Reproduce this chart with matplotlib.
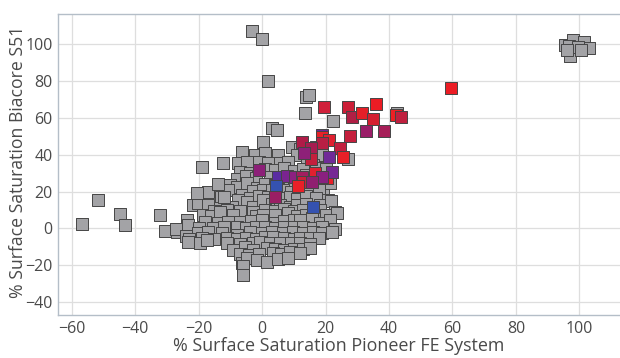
import matplotlib
matplotlib.use("Agg")
import matplotlib.pyplot as plt

plt.rcParams['font.family'] = ['Open Sans', 'DejaVu Sans']

# Gray samples (no category colour)
gray_x = [
    -3.2, 0.0, 2.0, 13.9, 14.9, 13.6, 3.2, 4.7, 0.3, 22.3, 42.5, 27.2,
    -56.6, -51.6, -44.7, -43.1, -32.2, -30.5, -26.8, -18.8, -12.4,
    95.5, 97.1, 98.1, 101.3, 103.0, 96.6, 99.7, 96.0, 100.5,
    -6.4, 9.4, 12.0, 17.0,
    -2.2, 0.9, 10.9, 18.8, 5.0,
    -7.5, -4.8, 5.7, 8.3, 14.1, 16.2, -1.0, 2.0,
    -6.9, -3.8, 1.0, 4.0, 7.0, 10.0, 13.0, 17.0, 20.0,
    -8.0, -5.0, -2.0, 2.5, 14.0, 17.0, 21.0,
    -10.0, -8.0, -4.8, -1.7, 1.0, 4.0, 7.0, 10.0, 13.0, 16.0, 19.3, 21.4,
    -10.6, -6.4, -3.0, 0.4, 3.0, 6.7, 9.0, 12.0, 15.0, 18.0,
    -13.0, -7.5, -3.8, -1.0, 2.0, 5.0, 8.8, 11.0, 14.0, 17.0, 20.9,
    -21.7, -20.1, -16.9, -13.2, -9.5, -4.8, -2.7, 0.4, 3.0, 5.7, 8.8, 10.9, 14.0, 18.3, 21.6,
    -18.5, -15.0, -11.0, -7.0, -3.0, 1.0, 4.0, 7.0, 10.0, 13.0, 16.0, 18.3, 23.0,
    -23.7, -16.0, -13.2, -9.0, -5.8, -2.0, 0.4, 4.0, 8.3, 11.0, 14.0, 17.0, 20.0, 23.5,
    -23.4, -18.0, -14.0, -10.6, -6.9, -3.5, 0.0, 4.1, 7.0, 10.0, 12.0, 15.7, 18.3, 21.4,
    -27.0, -20.0, -15.3, -12.0, -8.0, -5.0, -2.0, 1.0, 4.0, 7.0, 10.0, 13.0, 16.0, 19.0, 23.0,
    -24.0, -20.1, -17.0, -12.7, -8.0, -3.8, -0.1, 3.0, 6.7, 9.9, 13.0, 16.0, 18.8, 22.0,
    -23.0, -19.0, -15.0, -11.0, -8.0, -5.0, -2.0, 1.0, 3.6, 7.0, 10.0, 12.0, 15.1, 18.0,
    -23.2, -19.5, -17.4, -11.1, -7.0, -3.0, -0.6, 2.5, 5.7, 9.0, 12.0, 15.0,
    -9.0, -5.4, -2.7, 1.5, 4.0, 7.0, 10.0, 13.0, 15.1,
    -7.0, -4.0, -1.0, 3.6, 6.0, 8.8, 12.0,
    -6.4, -4.8, -1.7, 1.5, 5.0, 8.3,
    -6.0, -5.9,
    -17.0, -14.0, -12.0, -20.6,
]
gray_y = [
    107.0, 103.0, 80.0, 71.4, 72.3, 62.4, 54.4, 53.3, 47.0, 58.4, 62.4, 37.4,
    2.2, 15.4, 7.6, 1.6, 7.2, -1.5, -1.8, 33.4, 35.3,
    99.5, 93.4, 102.0, 100.9, 97.7, 98.9, 98.5, 97.0, 96.5,
    41.6, 44.3, 43.0, 44.0,
    39.8, 40.7, 39.8, 39.8, 40.0,
    35.3, 36.1, 35.3, 36.1, 35.3, 34.3, 36.0, 35.5,
    30.7, 29.8, 32.0, 31.5, 32.5, 31.0, 32.0, 33.0, 32.0,
    27.0, 28.5, 27.5, 28.0, 29.0, 27.0, 28.0,
    23.5, 22.6, 24.4, 21.7, 24.0, 23.5, 24.0, 24.5, 23.0, 24.0, 21.7, 24.4,
    20.8, 18.1, 20.5, 20.8, 21.0, 20.8, 19.5, 20.5, 20.0, 21.0,
    17.0, 15.4, 16.3, 17.5, 17.0, 16.5, 17.1, 16.0, 17.5, 16.5, 15.4,
    12.6, 13.6, 12.6, 10.9, 11.7, 14.4, 11.7, 15.4, 13.0, 12.6, 11.7, 12.6, 13.0, 12.6, 15.0,
    7.2, 9.5, 10.0, 9.5, 9.0, 10.0, 9.5, 10.5, 9.5, 10.0, 9.0, 9.9, 9.0,
    4.5, 6.5, 9.0, 7.0, 3.6, 6.5, 7.2, 7.0, 8.1, 6.5, 7.0, 6.0, 7.0, 8.1,
    1.8, 3.6, 3.0, 3.6, 3.6, 4.0, 4.5, 2.7, 4.0, 4.5, 4.5, 5.4, 2.7, 4.5,
    -0.5, 0.0, 0.0, 1.0, 0.5, 0.0, 1.0, 0.5, 0.0, 1.0, 0.5, 1.0, 0.0, 0.5, -0.5,
    -4.0, -2.7, -2.0, -2.7, -3.6, -1.8, -2.7, -2.0, -2.7, -1.8, -2.5, -2.0, -2.7, -2.0,
    -5.5, -5.0, -5.5, -5.0, -5.5, -5.0, -5.5, -4.5, -4.6, -5.0, -5.5, -5.0, -5.4, -5.0,
    -7.3, -8.1, -6.3, -8.1, -8.5, -8.0, -7.3, -8.0, -8.1, -8.0, -8.1, -8.5,
    -11.5, -10.0, -11.8, -10.9, -11.0, -11.5, -11.0, -11.0, -10.9,
    -14.0, -14.5, -14.0, -13.6, -14.0, -12.7, -13.5,
    -19.0, -16.3, -17.2, -18.1, -16.5, -16.3,
    -20.5, -25.3,
    20.0, 24.0, 17.0, 19.0,
]

# Coloured samples, drawn on top of the gray ones
col_x = [19.6, 27.0, 28.3, 31.5, 35.8, 35.0, 42.1, 43.8, 59.6,
         27.6, 32.9, 38.5, 18.8, 19.0, 21.2, 18.8, 12.7, 15.5, 24.6,
         25.6, 21.2, 15.3, 13.3, -0.9, 5.1, 7.8, 10.4, 12.5, 16.7,
         20.6, 22.0, 18.8, 13.0, 11.4, 15.7, 4.3, 4.1, 16.0]
col_y = [66.0, 66.0, 60.2, 62.4, 67.6, 59.3, 61.5, 60.2, 76.1,
         50.1, 52.8, 52.8, 50.6, 49.4, 47.9, 46.1, 47.0, 43.4, 43.4,
         38.5, 38.5, 37.8, 40.7, 31.6, 28.0, 28.4, 28.0, 27.7, 29.8,
         27.1, 30.7, 28.0, 25.3, 23.0, 25.3, 23.0, 16.8, 11.7]
col_c = ['#d0203a', '#cc1f38', '#b01f45', '#e42028', '#ec1c24', '#d41f30',
         '#ee2024', '#c0203f', '#ec1c24',
         '#c41f3c', '#9a1e68', '#a61e58', '#6a2a9c', '#e82028', '#e02030',
         '#b81f44', '#b01c48', '#a81c50', '#c21f3e',
         '#e82028', '#702a98', '#c41f3c', '#8e2078', '#8c1f78', '#5a2ca2',
         '#7a2490', '#8c2080', '#a21e60', '#e22030',
         '#e82028', '#762894', '#8a2080', '#c8203a', '#e82028', '#901f70',
         '#3552b0', '#9a1e64', '#3552b0']

x_ticks = [-60, -40, -20, 0, 20, 40, 60, 80, 100]
y_ticks = [-40, -20, 0, 20, 40, 60, 80, 100]

fig = plt.figure(figsize=(6.2, 3.58), dpi=100)
ax = fig.add_axes([58 / 620, 1 - 315 / 358, 1 - 58 / 620, (315 - 14) / 358])

ax.scatter(gray_x, gray_y, marker='s', s=74, c='#a3a3a6',
           edgecolors='#454545', linewidths=0.7, zorder=3)
ax.scatter(col_x, col_y, marker='s', s=74, c=col_c,
           edgecolors='#454545', linewidths=0.7, zorder=4)

ax.set_xlim(-64.3, 112.8)
ax.set_ylim(-47, 116.3)
ax.set_xticks(x_ticks)
ax.set_yticks(y_ticks)
ax.grid(True, color='#dedede', linewidth=0.9, zorder=0)
ax.set_axisbelow(True)

for side in ('left', 'bottom', 'top'):
    ax.spines[side].set_color('#b4bec8')
    ax.spines[side].set_linewidth(1.0)
ax.spines['right'].set_visible(False)

ax.tick_params(length=0, labelsize=11.5, labelcolor='#4a4a4a', pad=4)
ax.set_xlabel('% Surface Saturation Pioneer FE System', fontsize=12.9,
              color='#4a4a4a')
ax.set_ylabel('% Surface Saturation Biacore S51', fontsize=12.7,
              color='#4a4a4a')
ax.xaxis.set_label_coords(0.499, -0.074)
ax.yaxis.set_label_coords(-0.056, 0.51)

fig.savefig('out.png', dpi=100)
